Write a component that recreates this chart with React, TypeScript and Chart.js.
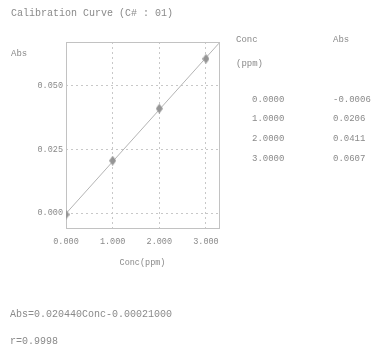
import React, { useEffect, useRef } from "react";
import { Chart, registerables } from "chart.js";

Chart.register(...registerables);

// Standards: concentration (ppm) and measured absorbance
const concValues = [0, 1, 2, 3];
const absValues = [-0.0006, 0.0206, 0.0411, 0.0607];

// Linear fit Abs = slope * Conc + intercept
const slope = 0.02044;
const intercept = -0.00021;
const correlation = "0.9998";

// Axis ticks and ranges
const xTicks = [0, 1, 2, 3];
const yTicks = [0, 0.025, 0.05];
const xRange = [0, 3.28];
const yRange = [-0.0059, 0.0673];

const TEXT = "#8a8a8a";
const FONT = "'Liberation Mono', 'DejaVu Sans Mono', monospace";

function diamond(w: number, h: number, color: string): HTMLCanvasElement {
  const c = document.createElement("canvas");
  c.width = w;
  c.height = h;
  const g = c.getContext("2d")!;
  g.fillStyle = color;
  g.beginPath();
  g.moveTo(w / 2, 0);
  g.lineTo(w, h / 2);
  g.lineTo(w / 2, h);
  g.lineTo(0, h / 2);
  g.closePath();
  g.fill();
  return c;
}

const frame = {
  id: "frame",
  beforeDatasetsDraw(chart: any) {
    const { ctx, chartArea: a } = chart;
    ctx.save();
    ctx.strokeStyle = "#c2c2c2";
    ctx.lineWidth = 1;
    ctx.strokeRect(Math.round(a.left) + 0.5, Math.round(a.top) + 0.5, Math.round(a.right - a.left), Math.round(a.bottom - a.top));
    ctx.restore();
  },
};

function Label({ x, cy, size, children }: { x: number; cy: number; size: number; children: React.ReactNode }) {
  return (
    <div
      style={{
        position: "absolute",
        left: x,
        top: cy - size * 0.6,
        fontSize: size,
        lineHeight: `${size * 1.2}px`,
        fontFamily: FONT,
        color: TEXT,
        whiteSpace: "nowrap",
      }}
    >
      {children}
    </div>
  );
}

export default function App() {
  const ref = useRef<HTMLCanvasElement>(null);

  useEffect(() => {
    if (!ref.current) return;
    const fitLine = xRange.map((x) => ({ x, y: slope * x + intercept }));
    const chart = new Chart(ref.current, {
      type: "scatter",
      data: {
        datasets: [
          {
            data: concValues.map((x, i) => ({ x, y: absValues[i] })),
            pointStyle: diamond(7, 10, "#959595") as any,
            pointRadius: 5,
          },
          {
            data: fitLine,
            showLine: true,
            borderColor: "#b4b4b4",
            borderWidth: 1,
            pointRadius: 0,
          },
        ],
      },
      options: {
        animation: false,
        responsive: false,
        events: [],
        layout: { padding: { top: 42, right: 159, bottom: 92, left: 0 } },
        plugins: { legend: { display: false }, tooltip: { enabled: false } },
        scales: {
          x: {
            type: "linear",
            min: xRange[0],
            max: xRange[1],
            afterBuildTicks: (s: any) => {
              s.ticks = xTicks.map((value) => ({ value }));
            },
            afterFit: (s: any) => {
              s.height = 40;
            },
            grid: { color: "#c8c8c8", drawTicks: false },
            border: { display: false, dash: [2, 3] },
            ticks: {
              padding: 9,
              color: TEXT,
              font: { family: FONT, size: 8.5 },
              callback: (v: any) => Number(v).toFixed(3),
            },
            title: {
              display: true,
              text: "Conc(ppm)",
              color: TEXT,
              padding: 0,
              font: { family: FONT, size: 8.5 },
            },
          },
          y: {
            type: "linear",
            min: yRange[0],
            max: yRange[1],
            afterBuildTicks: (s: any) => {
              s.ticks = yTicks.map((value) => ({ value }));
            },
            afterFit: (s: any) => {
              s.width = 66;
            },
            grid: { color: "#c8c8c8", drawTicks: false },
            border: { display: false, dash: [2, 3] },
            ticks: {
              padding: 3,
              color: TEXT,
              font: { family: FONT, size: 8.5 },
              callback: (v: any) => Number(v).toFixed(3),
            },
          },
        },
      },
      plugins: [frame],
    });
    return () => chart.destroy();
  }, []);

  const rowY = [100, 119, 139, 159];

  return (
    <div style={{ position: "absolute", left: 0, top: 0, width: 378, height: 360, background: "#fff", overflow: "hidden" }}>
      <canvas ref={ref} width={378} height={360} style={{ position: "absolute", left: 0, top: 0 }} />
      <Label x={11} cy={14} size={10}>Calibration Curve (C# : 01)</Label>
      <Label x={11} cy={54} size={9}>Abs</Label>
      <Label x={236} cy={40} size={9}>Conc</Label>
      <Label x={333} cy={40} size={9}>Abs</Label>
      <Label x={236} cy={64} size={9}>(ppm)</Label>
      {concValues.map((c, i) => (
        <Label key={"c" + i} x={252} cy={rowY[i]} size={9}>{c.toFixed(4)}</Label>
      ))}
      {absValues.map((a, i) => (
        <Label key={"a" + i} x={333} cy={rowY[i]} size={9}>{a.toFixed(4)}</Label>
      ))}
      <Label x={10} cy={315} size={10}>
        {`Abs=${slope.toFixed(6)}Conc${intercept.toFixed(8)}`}
      </Label>
      <Label x={10} cy={342} size={10}>{`r=${correlation}`}</Label>
    </div>
  );
}
